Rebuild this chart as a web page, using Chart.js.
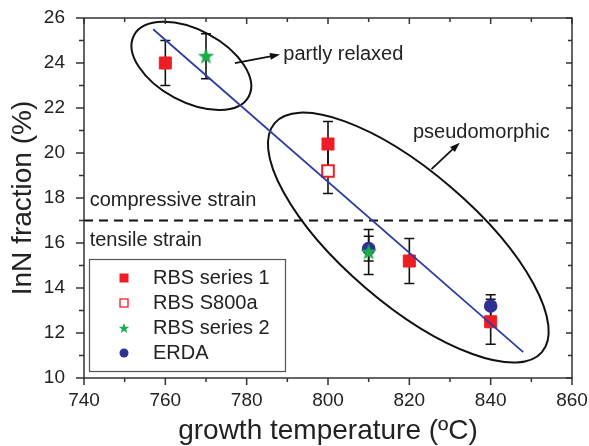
<!DOCTYPE html>
<html>
<head>
<meta charset="utf-8">
<script src="https://cdn.jsdelivr.net/npm/chart.js@4.4.1/dist/chart.umd.min.js"></script>
<style>
  body { margin: 0; background: #fff; }
  canvas { display: block; }
</style>
</head>
<body>
<canvas id="myChart" width="589" height="446"></canvas>
<script>
// values
var rbs1Temp = [760, 800, 820, 840];
var rbs1InN  = [24.0, 20.4, 15.2, 12.5];
var rbs1Err  = [1.0, 1.0, 1.0, 1.0];

var s800aTemp = [800];
var s800aInN  = [19.2];
var s800aErr  = [1.0];

var rbs2Temp = [770, 810];
var rbs2InN  = [24.3, 15.6];
var rbs2Err  = [1.0, 1.0];

var erdaTemp = [810, 840];
var erdaInN  = [15.75, 13.2];
var erdaErr  = [0.55, 0.5];

var fitTemp = [757, 848];
var fitInN  = [25.5, 11.15];

var strainTemp = [740, 860];
var strainInN  = [17, 17];

var xTicks = [740, 760, 780, 800, 820, 840, 860];
var yTicks = [10, 12, 14, 16, 18, 20, 22, 24, 26];

var RED = '#ee1d25', GREEN = '#1cac4c', NAVY = '#2d3192', FIT = '#2e3d9f';
var FONT = "'Liberation Sans', Arial, sans-serif";

function pts(xs, ys) {
    return xs.map(function(x, i) { return {x: x, y: ys[i]}; });
}

function starPath(ctx, cx, cy, ro, ri) {
    ctx.beginPath();
    for (var k = 0; k < 10; k++) {
        var r = k % 2 ? ri : ro;
        var a = -Math.PI / 2 + k * Math.PI / 5;
        ctx.lineTo(cx + r * Math.cos(a), cy + r * Math.sin(a));
    }
    ctx.closePath();
}

function makeStar(size, color) {
    var c = document.createElement('canvas');
    c.width = size; c.height = size;
    var g = c.getContext('2d');
    g.fillStyle = color;
    starPath(g, size / 2, size / 2 + 0.5, size / 2, size / 2 * 0.42);
    g.fill();
    return c;
}
var starImg = makeStar(17, GREEN);

// error bars under the markers
var errorBars = {
    id: 'errorBars',
    beforeDatasetsDraw: function(chart) {
        var ctx = chart.ctx, xs = chart.scales.x, ys = chart.scales.y;
        ctx.save();
        ctx.strokeStyle = '#111';
        ctx.lineWidth = 1.6;
        chart.data.datasets.forEach(function(ds) {
            if (!ds.errors) return;
            ds.data.forEach(function(p, j) {
                var e = ds.errors[j];
                var px = xs.getPixelForValue(p.x);
                var t = ys.getPixelForValue(p.y + e), b = ys.getPixelForValue(p.y - e);
                ctx.beginPath();
                ctx.moveTo(px, t); ctx.lineTo(px, b);
                ctx.moveTo(px - 5, t); ctx.lineTo(px + 5, t);
                ctx.moveTo(px - 5, b); ctx.lineTo(px + 5, b);
                ctx.stroke();
            });
        });
        ctx.restore();
    }
};

function arrow(ctx, x1, y1, x2, y2) {
    var a = Math.atan2(y2 - y1, x2 - x1);
    ctx.beginPath();
    ctx.moveTo(x1, y1);
    ctx.lineTo(x2 - 7 * Math.cos(a), y2 - 7 * Math.sin(a));
    ctx.stroke();
    ctx.beginPath();
    ctx.moveTo(x2, y2);
    ctx.lineTo(x2 - 10 * Math.cos(a) + 3.5 * Math.sin(a), y2 - 10 * Math.sin(a) - 3.5 * Math.cos(a));
    ctx.lineTo(x2 - 10 * Math.cos(a) - 3.5 * Math.sin(a), y2 - 10 * Math.sin(a) + 3.5 * Math.cos(a));
    ctx.closePath();
    ctx.fill();
}

// ellipses, arrows and notes
var notes = {
    id: 'notes',
    beforeDatasetsDraw: function(chart) {
        var ctx = chart.ctx, xs = chart.scales.x, ys = chart.scales.y;
        ctx.save();
        ctx.strokeStyle = '#111';
        ctx.lineWidth = 2;
        [[766.4, 23.87, 65, 36, 28], [819.75, 16.24, 176, 66, 40.6]].forEach(function(e) {
            ctx.beginPath();
            ctx.ellipse(xs.getPixelForValue(e[0]), ys.getPixelForValue(e[1]), e[2], e[3],
                e[4] * Math.PI / 180, 0, Math.PI * 2);
            ctx.stroke();
        });
        ctx.restore();
    },
    afterDatasetsDraw: function(chart) {
        var ctx = chart.ctx, xs = chart.scales.x, ys = chart.scales.y;
        var X = function(v) { return xs.getPixelForValue(v); };
        var Y = function(v) { return ys.getPixelForValue(v); };
        ctx.save();
        ctx.strokeStyle = '#111';
        ctx.fillStyle = '#111';
        ctx.lineWidth = 1.8;
        arrow(ctx, X(777.1), Y(23.99), X(788.2), Y(24.38));
        arrow(ctx, X(825.45), Y(19.28), X(832.4), Y(20.46));
        ctx.fillStyle = '#222';
        ctx.font = '20px ' + FONT;
        ctx.textBaseline = 'middle';
        ctx.textAlign = 'left';
        ctx.fillText('partly relaxed', X(789), Y(24.36));
        ctx.fillText('pseudomorphic', X(820.9), Y(20.89));
        ctx.fillText('compressive strain', X(741.4), Y(17.88));
        ctx.fillText('tensile strain', X(741.4), Y(16.13));
        ctx.restore();
    }
};

// box with ticks on all four sides
var frame = {
    id: 'frame',
    afterDatasetsDraw: function(chart) {
        var ctx = chart.ctx, a = chart.chartArea, xs = chart.scales.x, ys = chart.scales.y;
        ctx.save();
        ctx.strokeStyle = '#333';
        ctx.lineWidth = 1.5;
        ctx.strokeRect(a.left, a.top, a.right - a.left, a.bottom - a.top);
        ctx.beginPath();
        for (var v = 740; v <= 860; v += 10) {
            var px = xs.getPixelForValue(v), major = (v - 740) % 20 === 0;
            ctx.moveTo(px, a.bottom); ctx.lineTo(px, a.bottom + (major ? 7 : 4));
            ctx.moveTo(px, a.top); ctx.lineTo(px, a.top + (major ? 6 : 4));
        }
        for (var w = 10; w <= 26; w += 1) {
            var py = ys.getPixelForValue(w), maj = w % 2 === 0;
            ctx.moveTo(a.left, py); ctx.lineTo(a.left - (maj ? 8 : 5), py);
            ctx.moveTo(a.right, py); ctx.lineTo(a.right - (maj ? 6 : 4), py);
        }
        ctx.stroke();
        ctx.restore();
    }
};

// boxed legend in the lower left corner
var boxLegend = {
    id: 'boxLegend',
    afterDraw: function(chart) {
        var ctx = chart.ctx;
        ctx.save();
        ctx.fillStyle = '#fff';
        ctx.fillRect(89, 259, 196, 112);
        ctx.strokeStyle = '#555';
        ctx.lineWidth = 1.2;
        ctx.strokeRect(89.5, 259.5, 196, 112);
        var rows = ['RBS series 1', 'RBS S800a', 'RBS series 2', 'ERDA'];
        rows.forEach(function(label, i) {
            var cx = 124, cy = 278 + i * 25;
            if (i === 0) { ctx.fillStyle = RED; ctx.fillRect(cx - 4.5, cy - 4.5, 9, 9); }
            if (i === 1) { ctx.strokeStyle = RED; ctx.lineWidth = 1.3; ctx.strokeRect(cx - 4, cy - 4, 8, 8); }
            if (i === 2) { ctx.fillStyle = GREEN; starPath(ctx, cx, cy + 0.5, 5.5, 2.3); ctx.fill(); }
            if (i === 3) { ctx.fillStyle = NAVY; ctx.beginPath(); ctx.arc(cx, cy, 4.5, 0, Math.PI * 2); ctx.fill(); }
            ctx.fillStyle = '#222';
            ctx.font = '20px ' + FONT;
            ctx.textBaseline = 'middle';
            ctx.fillText(label, 153, cy);
        });
        ctx.restore();
    }
};

var config = {
    type: 'scatter',
    data: {
        datasets: [{
            label: 'fit',
            data: pts(fitTemp, fitInN),
            showLine: true,
            borderColor: FIT,
            borderWidth: 1.8,
            pointRadius: 0,
            order: 0
        }, {
            label: 'RBS series 2',
            data: pts(rbs2Temp, rbs2InN),
            errors: rbs2Err,
            pointStyle: starImg,
            order: 1
        }, {
            label: 'RBS series 1',
            data: pts(rbs1Temp, rbs1InN),
            errors: rbs1Err,
            pointStyle: 'rect',
            pointRadius: 8.5,
            backgroundColor: RED,
            borderColor: RED,
            borderWidth: 1,
            order: 2
        }, {
            label: 'RBS S800a',
            data: pts(s800aTemp, s800aInN),
            errors: s800aErr,
            pointStyle: 'rect',
            pointRadius: 8.2,
            backgroundColor: '#fff',
            borderColor: RED,
            borderWidth: 2,
            order: 3
        }, {
            label: 'ERDA',
            data: pts(erdaTemp, erdaInN),
            errors: erdaErr,
            pointStyle: 'circle',
            pointRadius: 6.8,
            backgroundColor: NAVY,
            borderWidth: 0,
            order: 4
        }, {
            label: 'strain',
            data: pts(strainTemp, strainInN),
            showLine: true,
            borderColor: '#111',
            borderWidth: 1.8,
            borderDash: [9, 6],
            pointRadius: 0,
            order: 5
        }]
    },
    options: {
        responsive: false,
        animation: false,
        layout: { padding: { left: 0, right: 17, top: 18, bottom: 0 } },
        plugins: {
            legend: { display: false },
            tooltip: { enabled: false }
        },
        scales: {
            x: {
                type: 'linear',
                min: 740, max: 860,
                afterBuildTicks: function(s) { s.ticks = xTicks.map(function(v) { return {value: v}; }); },
                afterFit: function(s) { s.height = 68; s.paddingLeft = 0; s.paddingRight = 0; },
                grid: { display: false, drawTicks: false },
                border: { display: false },
                ticks: { color: '#222', padding: 11, font: { family: FONT, size: 19, lineHeight: 1.2 } },
                title: {
                    display: true,
                    text: 'growth temperature (ºC)',
                    color: '#222',
                    padding: { top: 0, bottom: 1 },
                    font: { family: FONT, size: 28, lineHeight: 1 }
                }
            },
            y: {
                type: 'linear',
                min: 10, max: 26,
                afterBuildTicks: function(s) { s.ticks = yTicks.map(function(v) { return {value: v}; }); },
                afterFit: function(s) { s.width = 84; s.paddingTop = 0; s.paddingBottom = 0; },
                grid: { display: false, drawTicks: false },
                border: { display: false },
                ticks: { color: '#222', padding: 19, font: { family: FONT, size: 19, lineHeight: 1.2 } },
                title: {
                    display: true,
                    text: 'InN fraction (%)',
                    color: '#222',
                    padding: { top: 9, bottom: 0 },
                    font: { family: FONT, size: 28, lineHeight: 1 }
                }
            }
        }
    },
    plugins: [notes, errorBars, frame, boxLegend]
};

var ctx = document.getElementById('myChart').getContext('2d');
window.myChart = new Chart(ctx, config);
</script>
</body>
</html>
